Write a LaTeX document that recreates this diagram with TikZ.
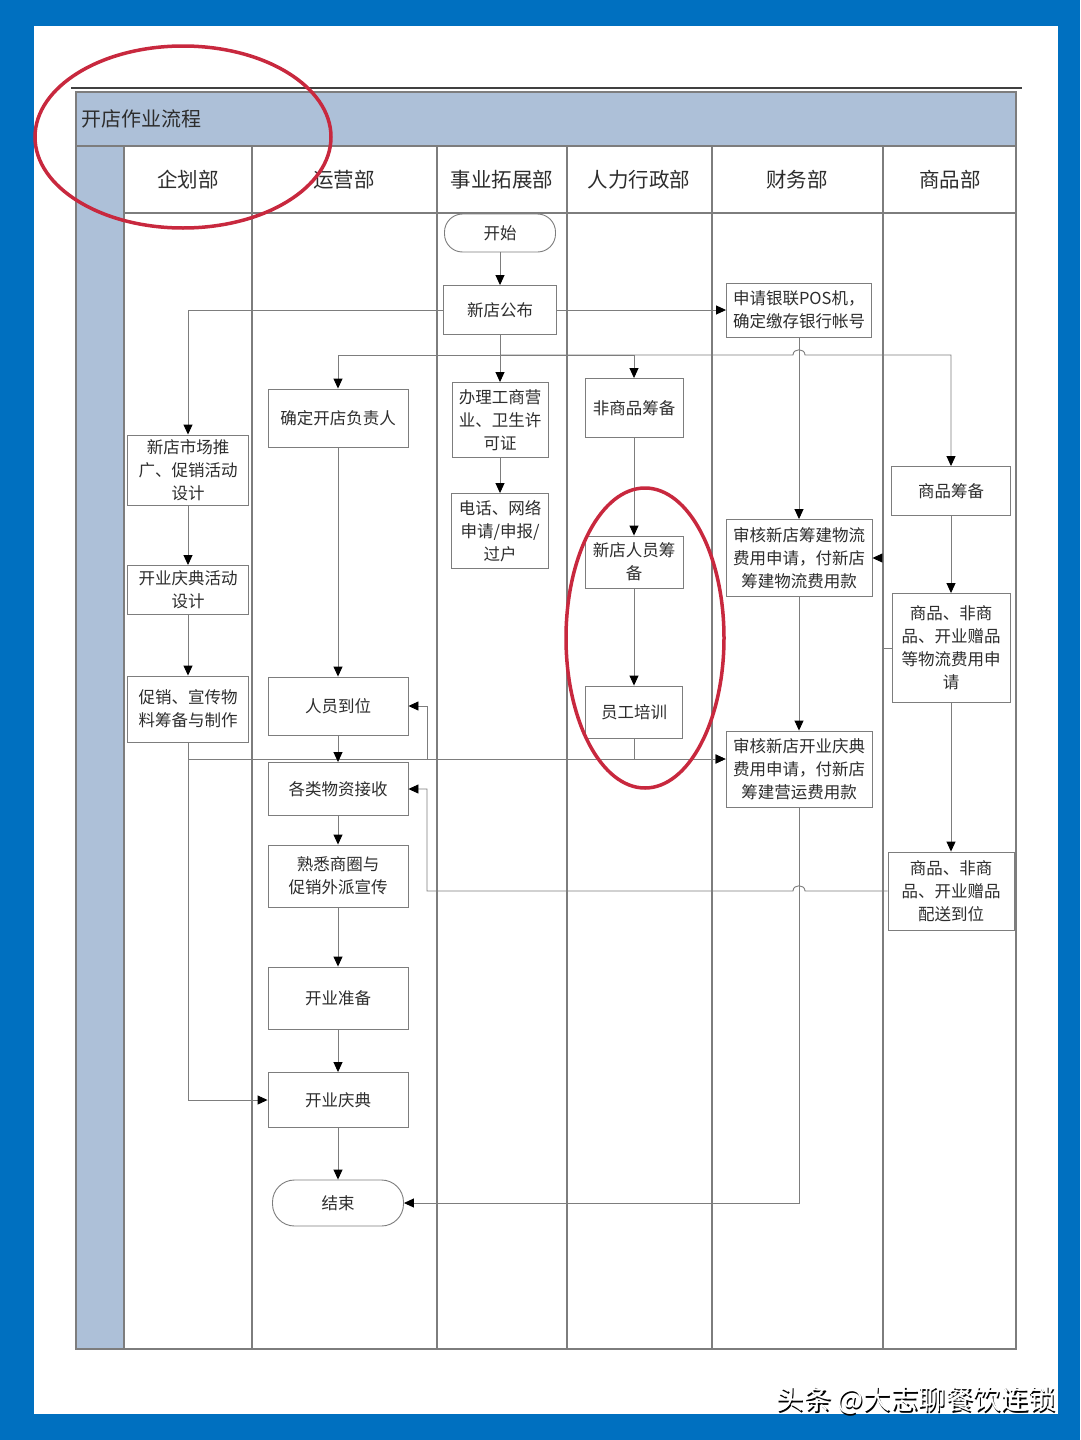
\documentclass[tikz,border=0pt]{standalone}
\usepackage{fontspec}
\setmainfont{Noto Sans CJK SC}
\usetikzlibrary{arrows.meta}
\definecolor{bblue}{RGB}{0,112,192}
\definecolor{band}{RGB}{173,192,216}
\definecolor{lc}{RGB}{125,125,125}
\definecolor{redc}{RGB}{200,40,62}
\definecolor{txt}{RGB}{45,45,45}
\begin{document}
\begin{tikzpicture}[x=1pt,y=-1pt,
  box/.style={draw=lc,line width=0.9pt,fill=white,align=center,inner sep=1pt,text=txt,font=\fontsize{16.5}{23}\selectfont},
  term/.style={box,rounded corners=18pt},
  ln/.style={draw=lc,line width=0.9pt},
  arr/.style={ln,-{Triangle[length=10pt,width=9pt,color=black]}},
  grid/.style={draw=lc,line width=1.1pt},
  head/.style={text=txt,font=\fontsize{20.5}{24}\selectfont}]
\useasboundingbox (0,0) rectangle (1080,1440);
% background
\fill[bblue] (0,0) rectangle (1080,1440);
\fill[white] (34,26) rectangle (1058,1414);
% top rule
\draw[line width=2pt,draw=black!75] (71,88) -- (1022,88);
% frame
\fill[band] (76,92) rectangle (1016,146);
\fill[band] (76,146) rectangle (124,1349);
\draw[grid] (76,92) rectangle (1016,1349);
\draw[grid] (76,146) -- (1016,146);
\draw[grid] (124,213) -- (1016,213);
\foreach \xx in {124,252,437,567,712,883} \draw[grid] (\xx,146) -- (\xx,1349);
\node[anchor=west,text=txt,font=\fontsize{20}{24}\selectfont] (title) at (78,119) {开店作业流程};
% headers
\node[head] (h1) at (188,180) {企划部};
\node[head] (h2) at (344,180) {运营部};
\node[head] (h3) at (502,180) {事业拓展部};
\node[head] (h4) at (639,180) {人力行政部};
\node[head] (h5) at (797,180) {财务部};
\node[head] (h6) at (950,180) {商品部};
% nodes
\node[term,minimum width=111pt,minimum height=38pt] (ks) at (500,233) {开始};
\node[box,minimum width=113pt,minimum height=49pt] (gb) at (500,310) {新店公布};
\node[box,minimum width=145pt,minimum height=54pt,align=left] (pos) at (799,310) {申请银联POS机，\\确定缴存银行帐号};
\node[box,minimum width=140pt,minimum height=58pt] (fzr) at (338,418) {确定开店负责人};
\node[box,minimum width=96pt,minimum height=75pt] (gs) at (500,420) {办理工商营\\业、卫生许\\可证};
\node[box,minimum width=97pt,minimum height=75pt] (dh) at (500,531) {电话、网络\\申请/申报/\\过户};
\node[box,minimum width=121pt,minimum height=70pt] (sc) at (188,470) {新店市场推\\广、促销活动\\设计};
\node[box,minimum width=98pt,minimum height=59pt] (fsp) at (634,408) {非商品筹备};
\node[box,minimum width=119pt,minimum height=49pt] (sp) at (951,491) {商品筹备};
\node[box,minimum width=98pt,minimum height=52pt] (ry) at (634,562) {新店人员筹\\备};
\node[box,minimum width=146pt,minimum height=77pt] (sh1) at (799,558) {审核新店筹建物流\\费用申请，付新店\\筹建物流费用款};
\node[box,minimum width=121pt,minimum height=49pt] (qd) at (188,590) {开业庆典活动\\设计};
\node[box,minimum width=118pt,minimum height=109pt] (wl) at (951,648) {商品、非商\\品、开业赠品\\等物流费用申\\请};
\node[box,minimum width=121pt,minimum height=66pt] (cx) at (188,709) {促销、宣传物\\料筹备与制作};
\node[box,minimum width=140pt,minimum height=58pt] (rd) at (338,706) {人员到位};
\node[box,minimum width=97pt,minimum height=52pt] (px) at (634,712) {员工培训};
\node[box,minimum width=146pt,minimum height=76pt] (sh2) at (799,769) {审核新店开业庆典\\费用申请，付新店\\筹建营运费用款};
\node[box,minimum width=140pt,minimum height=53pt] (wz) at (338,789) {各类物资接收};
\node[box,minimum width=140pt,minimum height=62pt] (sx) at (338,876) {熟悉商圈与\\促销外派宣传};
\node[box,minimum width=126pt,minimum height=78pt] (ps) at (951,891) {商品、非商\\品、开业赠品\\配送到位};
\node[box,minimum width=140pt,minimum height=62pt] (zb) at (338,998) {开业准备};
\node[box,minimum width=140pt,minimum height=55pt] (qdian) at (338,1100) {开业庆典};
\node[term,minimum width=131pt,minimum height=46pt,rounded corners=22pt] (js) at (338,1203) {结束};
% junctions
\coordinate (j1) at (500,355);
\coordinate (j2) at (188,759);
\coordinate (j3) at (427,759);
% connectors
\draw[arr] (ks) -- (gb);
\draw[arr] (gb) -- (pos);
\draw[arr] (gb.west) -| (sc.north);
\draw[arr] (gb) -- (gs);
\draw[arr] (j1) -| (fzr.north);
\draw[arr] (j1) -| (fsp.north);
\draw[arr] (j1) -- (793,355) .. controls (793,348) and (805,348) .. (805,355) -| (sp.north);
\draw[arr] (gs) -- (dh);
\draw[arr] (sc) -- (qd);
\draw[arr] (qd) -- (cx);
\draw[arr] (cx.south) |- (qdian.west);
\draw[arr] (j2) -- (j2 -| sh2.west);
\draw[arr] (px.south) |- (j3) |- (rd.east);
\draw[arr] (px.south) |- (j2 -| sh2.west);
\draw[arr] (fzr) -- (rd);
\draw[arr] (rd) -- (wz);
\draw[arr] (wz) -- (sx);
\draw[arr] (sx) -- (zb);
\draw[arr] (zb) -- (qdian);
\draw[arr] (qdian) -- (js);
\draw[arr] (pos) -- (sh1);
\draw[arr] (sh1) -- (sh2);
\draw[arr] (sh2.south) |- (js.east);
\draw[arr] (fsp) -- (ry);
\draw[arr] (ry) -- (px);
\draw[arr] (sp) -- (wl);
\draw[arr] (wl.west) -- (883,648) |- (sh1.east);
\draw[arr] (wl) -- (ps);
\draw[arr] (ps.west) -- (805,891) .. controls (805,884) and (793,884) .. (793,891) -- (427,891) |- (wz.east);
% red ellipses
\draw[redc,line width=3.5pt] (183,137) ellipse [x radius=148, y radius=91];
\draw[redc,line width=3.5pt] (645,638) ellipse [x radius=79, y radius=150];
% watermark
\node[text=black,font=\fontsize{27.5}{29}\selectfont] (wms) at (917.5,1402) {头条 @大志聊餐饮连锁};
\node[text=white,font=\fontsize{27.5}{29}\selectfont] (wm) at (916,1400.5) {头条 @大志聊餐饮连锁};
\end{tikzpicture}
\end{document}
